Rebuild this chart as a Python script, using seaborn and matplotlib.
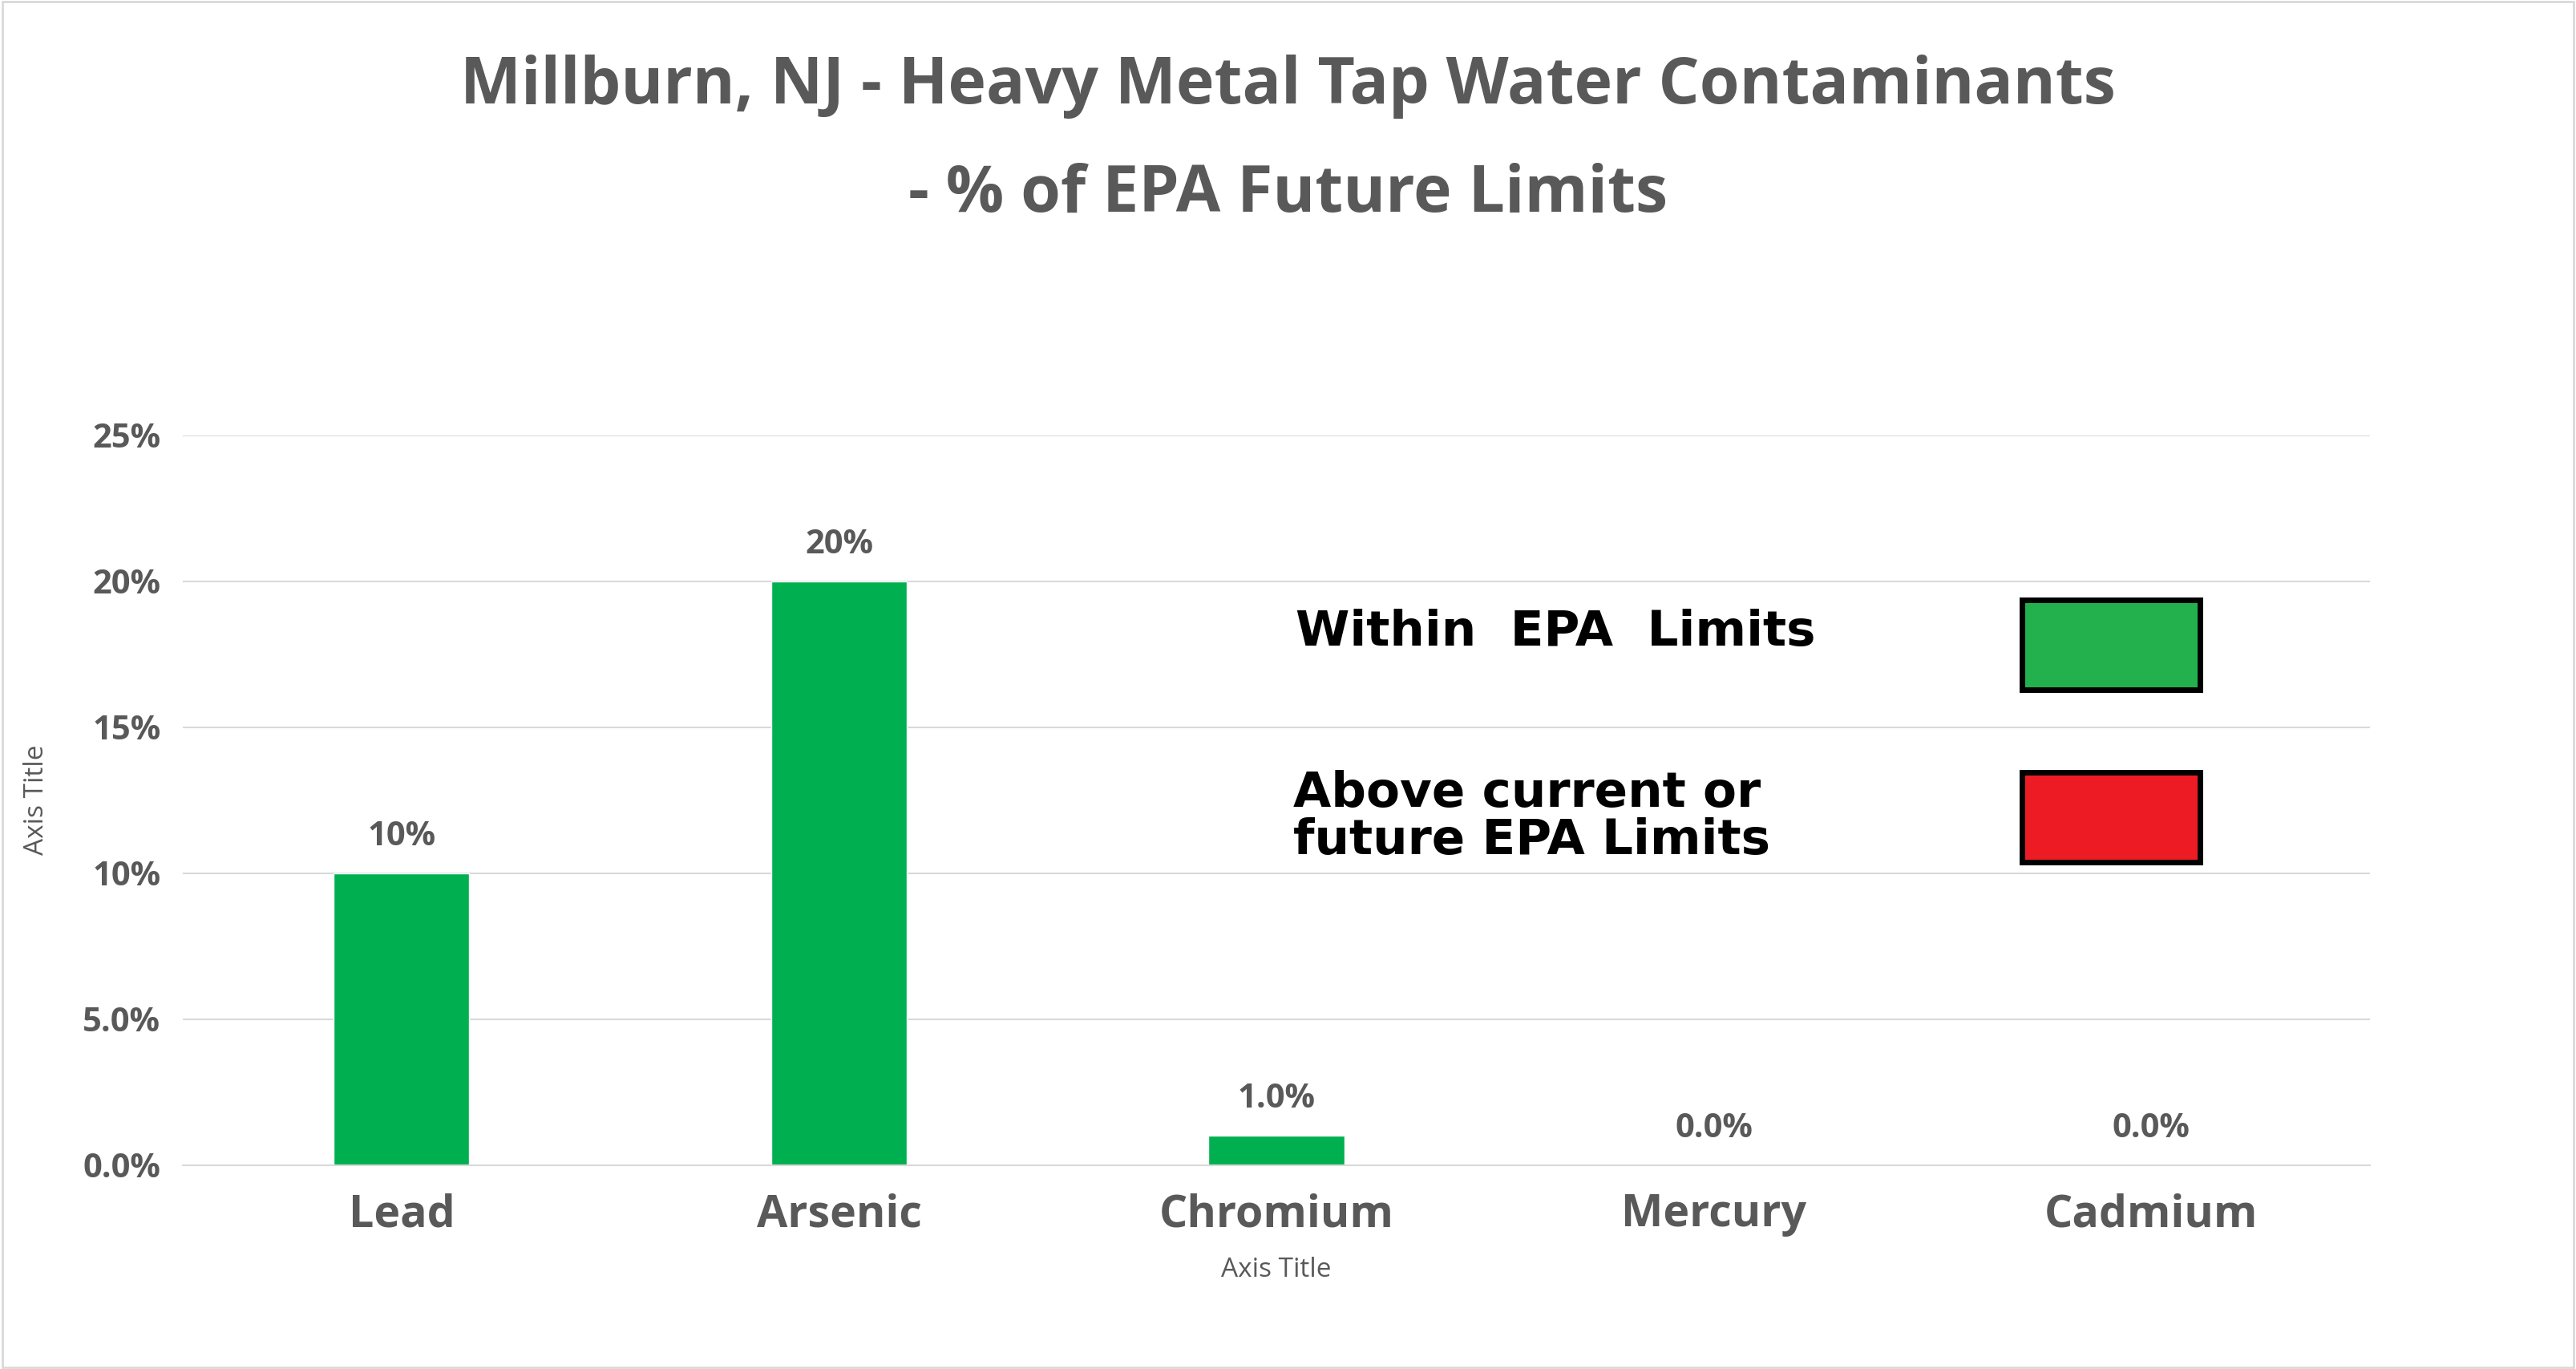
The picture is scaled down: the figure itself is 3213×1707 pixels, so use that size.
import matplotlib
matplotlib.use("Agg")
import matplotlib.pyplot as plt
import seaborn as sns
import pandas as pd
from matplotlib.patches import Rectangle

metals = ["Lead", "Arsenic", "Chromium", "Mercury", "Cadmium"]
pct_values = [10, 20, 1, 0, 0]
bar_labels = ["10%", "20%", "1.0%", "0.0%", "0.0%"]
ytick_vals = [0, 5, 10, 15, 20, 25]
ytick_labels = ["0.0%", "5.0%", "10%", "15%", "20%", "25%"]

sns.set_style("white")
plt.rcParams['font.family'] = ['Open Sans', 'DejaVu Sans']
grey = "#595959"

df = pd.DataFrame({"metal": metals, "pct": pct_values})

fig = plt.figure(figsize=(32.13, 17.07), dpi=100)
ax = fig.add_axes([0.071, 0.149, 0.849, 0.533])
sns.barplot(data=df, x="metal", y="pct", color="#00B050", width=0.31,
            saturation=1, ax=ax)

ax.set_ylim(0, 25)
ax.set_yticks(ytick_vals)
ax.set_yticklabels(ytick_labels, fontsize=30, fontweight="bold", color=grey)
ax.tick_params(axis="x", labelsize=40, labelcolor=grey, length=0, pad=25)
for t in ax.get_xticklabels():
    t.set_fontweight("bold")
ax.tick_params(axis="y", length=0, pad=20)
ax.yaxis.grid(True, color="#d9d9d9", linewidth=1.5)
ax.set_axisbelow(True)
for s in ["top", "right", "left"]:
    ax.spines[s].set_visible(False)
ax.spines["bottom"].set_color("#d9d9d9")
ax.spines["bottom"].set_linewidth(1.5)

for i, (v, lab) in enumerate(zip(pct_values, bar_labels)):
    ax.annotate(lab, (i, v), xytext=(0, 18), textcoords="offset points",
                ha="center", va="bottom", fontsize=30, fontweight="bold", color=grey)

ax.set_xlabel("Axis Title", fontsize=24, color=grey, labelpad=18)
ax.set_ylabel("Axis Title", fontsize=24, color=grey, labelpad=30)

fig.text(0.5, 0.937, "Millburn, NJ - Heavy Metal Tap Water Contaminants",
         ha="center", va="center", fontsize=58, fontweight="bold", color=grey)
fig.text(0.5, 0.858, "- % of EPA Future Limits",
         ha="center", va="center", fontsize=58, fontweight="bold", color=grey)

# legend drawn as image-like key
fig.text(0.503, 0.538, "Within  EPA  Limits", ha="left", va="center",
         fontsize=44, fontweight="bold", color="black", family="DejaVu Sans")
fig.text(0.502, 0.403, "Above current or\nfuture EPA Limits", ha="left", va="center",
         fontsize=44, fontweight="bold", color="black", family="DejaVu Sans",
         linespacing=1.0)
fig.add_artist(Rectangle((0.785, 0.496), 0.069, 0.066, transform=fig.transFigure,
                         facecolor="#22B14C", edgecolor="black", linewidth=5))
fig.add_artist(Rectangle((0.785, 0.370), 0.069, 0.066, transform=fig.transFigure,
                         facecolor="#ED1C24", edgecolor="black", linewidth=5))

fig.add_artist(Rectangle((0.001, 0.001), 0.998, 0.998, transform=fig.transFigure,
                         facecolor="none", edgecolor="#d9d9d9", linewidth=2))

fig.savefig("out.png", dpi=100, facecolor="white")
